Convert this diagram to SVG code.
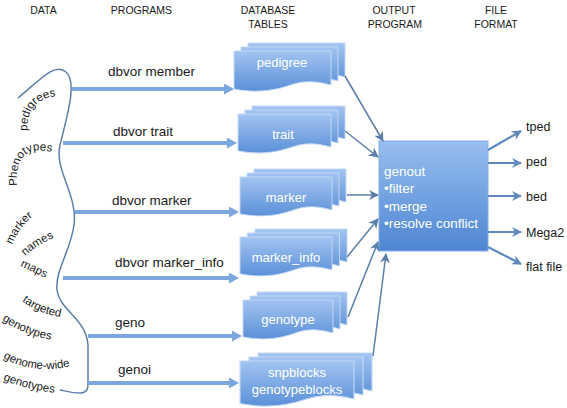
<svg xmlns="http://www.w3.org/2000/svg" width="567" height="408" viewBox="0 0 567 408">
<defs>
<style>
text{font-family:"Liberation Sans",Arial,sans-serif;fill:#1a1a1a}
.hdr{font-size:10.5px;text-anchor:middle}
.prog{font-size:13.5px}
.tbl{font-size:13px;fill:#ffffff;text-anchor:middle}
.gen{font-size:13.5px;fill:#ffffff}
.out{font-size:12.5px}
.cur{font-size:11.5px}
.sheet{fill:url(#sg);stroke:#c3d8f4;stroke-width:1;vector-effect:non-scaling-stroke}
.thick{stroke:#7ba6de;stroke-width:4;fill:none;marker-end:url(#mThick)}
.thin{stroke:#5a7ea8;stroke-width:1.5;fill:none;marker-end:url(#mThin)}
.outa{stroke:#5f89bd;stroke-width:2.2;fill:none;marker-end:url(#mOut)}
.brace{stroke:#5b7ea8;stroke-width:1.5;fill:none}
</style>
<linearGradient id="sg" x1="0" y1="0" x2="0" y2="1">
<stop offset="0" stop-color="#a2c4f1"/>
<stop offset="1" stop-color="#5b90d8"/>
</linearGradient>
<linearGradient id="bg" x1="0" y1="0" x2="0" y2="1">
<stop offset="0" stop-color="#97bef0"/>
<stop offset="1" stop-color="#4e86d2"/>
</linearGradient>
<path id="doc" d="M0,0 H100 V34 C80,29 70,30 55,35 C40,40 20,42 0,38 Z"/>
<marker id="mThick" markerUnits="userSpaceOnUse" markerWidth="10" markerHeight="11" refX="1" refY="5.5" orient="auto">
<path d="M0,0 L10,5.5 L0,11 Z" fill="#7ba6de"/>
</marker>
<marker id="mThin" markerUnits="userSpaceOnUse" markerWidth="10" markerHeight="10" refX="9" refY="5" orient="auto">
<path d="M0,0 L10,5 L0,10 L3,5 Z" fill="#5a7ea8"/>
</marker>
<marker id="mOut" markerUnits="userSpaceOnUse" markerWidth="10" markerHeight="10" refX="9" refY="5" orient="auto">
<path d="M0,0 L10,5 L0,10 L3,5 Z" fill="#5f89bd"/>
</marker>
<path id="tp1" d="M27,131 Q27,97 60,96"/>
<path id="tp2" d="M17,186 Q14,139 58,154"/>
<path id="tp3" d="M12,245 Q22,220 46,208"/>
<path id="tp4" d="M25,256 Q41,241 67,233"/>
<path id="tp5" d="M20,266 L54,282"/>
<path id="tp6" d="M22,301 Q40,315 68,318"/>
<path id="tp7" d="M2,320 Q25,336 58,341"/>
<path id="tp8" d="M3,358 Q40,378 84,362"/>
<path id="tp9" d="M3,380 Q30,391 66,394"/>
</defs>

<g id="headers">
<text class="hdr" x="43.5" y="14">DATA</text>
<text class="hdr" x="141.5" y="14">PROGRAMS</text>
<text class="hdr" x="268" y="14">DATABASE</text>
<text class="hdr" x="268" y="28">TABLES</text>
<text class="hdr" x="394" y="14">OUTPUT</text>
<text class="hdr" x="395" y="28">PROGRAM</text>
<text class="hdr" x="496" y="14">FILE</text>
<text class="hdr" x="496" y="28">FORMAT</text>
</g>

<g id="data">
<path class="brace" d="M18,98 C40,80 55,62 66,72 C78,82 66,120 60,145 C54,170 78,195 74,225 C71,250 55,270 57,290 C59,310 86,318 88,345 L88,385 C88,397 75,393 60,390"/>
<text class="cur"><textPath href="#tp1">pedigrees</textPath></text>
<text class="cur"><textPath href="#tp2">Phenotypes</textPath></text>
<text class="cur"><textPath href="#tp3">marker</textPath></text>
<text class="cur"><textPath href="#tp4">names</textPath></text>
<text class="cur"><textPath href="#tp5">maps</textPath></text>
<text class="cur"><textPath href="#tp6">targeted</textPath></text>
<text class="cur"><textPath href="#tp7">genotypes</textPath></text>
<text class="cur"><textPath href="#tp8">genome-wide</textPath></text>
<text class="cur"><textPath href="#tp9">genotypes</textPath></text>
</g>

<g id="programs">
<text class="prog" x="108" y="76">dbvor member</text>
<text class="prog" x="113" y="136">dbvor trait</text>
<text class="prog" x="112" y="205">dbvor marker</text>
<text class="prog" x="115" y="267">dbvor marker_info</text>
<text class="prog" x="115" y="327">geno</text>
<text class="prog" x="118" y="374">genoi</text>
</g>

<g id="pedigree">
<use href="#doc" class="sheet" transform="translate(248,43) scale(0.97,1)"/>
<use href="#doc" class="sheet" transform="translate(241,47) scale(0.97,1)"/>
<use href="#doc" class="sheet" transform="translate(234,51) scale(0.97,1)"/>
<text class="tbl" x="282" y="67">pedigree</text>
</g>
<g id="trait">
<use href="#doc" class="sheet" transform="translate(252,106) scale(0.93,0.97)"/>
<use href="#doc" class="sheet" transform="translate(245,110) scale(0.93,0.97)"/>
<use href="#doc" class="sheet" transform="translate(238,114) scale(0.93,0.97)"/>
<text class="tbl" x="283" y="139">trait</text>
</g>
<g id="marker">
<use href="#doc" class="sheet" transform="translate(254,169) scale(0.92,0.97)"/>
<use href="#doc" class="sheet" transform="translate(247,173) scale(0.92,0.97)"/>
<use href="#doc" class="sheet" transform="translate(240,177) scale(0.92,0.97)"/>
<text class="tbl" x="286" y="202">marker</text>
</g>
<g id="marker_info">
<use href="#doc" class="sheet" transform="translate(255,229) scale(0.92,0.97)"/>
<use href="#doc" class="sheet" transform="translate(247.5,233) scale(0.92,0.97)"/>
<use href="#doc" class="sheet" transform="translate(240,237) scale(0.92,0.97)"/>
<text class="tbl" x="286" y="262">marker_info</text>
</g>
<g id="genotype">
<use href="#doc" class="sheet" transform="translate(257,292) scale(0.9,0.97)"/>
<use href="#doc" class="sheet" transform="translate(250,296) scale(0.9,0.97)"/>
<use href="#doc" class="sheet" transform="translate(243,300) scale(0.9,0.97)"/>
<text class="tbl" x="288" y="324">genotype</text>
</g>
<g id="snpblocks">
<use href="#doc" class="sheet" transform="translate(258,353) scale(1.14,1.12)"/>
<use href="#doc" class="sheet" transform="translate(249,357) scale(1.14,1.12)"/>
<use href="#doc" class="sheet" transform="translate(240,361) scale(1.14,1.12)"/>
<text class="tbl" x="297" y="377">snpblocks</text>
<text class="tbl" x="297" y="394">genotypeblocks</text>
</g>

<g id="genout">
<rect x="379" y="141" width="109" height="110" fill="url(#bg)" stroke="#86aee2" stroke-width="1"/>
<text class="gen" x="384" y="176">genout</text>
<text class="gen" x="384" y="193">•filter</text>
<text class="gen" x="384" y="211">•merge</text>
<text class="gen" x="384" y="228">•resolve conflict</text>
</g>

<g id="formats">
<text class="out" x="526" y="131">tped</text>
<text class="out" x="526" y="166">ped</text>
<text class="out" x="526" y="201">bed</text>
<text class="out" x="526" y="237">Mega2</text>
<text class="out" x="526" y="271">flat file</text>
</g>

<g id="connectors">
<line class="thick" x1="72" y1="89" x2="225" y2="89"/>
<line class="thick" x1="63" y1="143" x2="228" y2="143"/>
<line class="thick" x1="75" y1="212" x2="230" y2="212"/>
<line class="thick" x1="63" y1="278" x2="230" y2="278"/>
<line class="thick" x1="88" y1="336" x2="233" y2="336"/>
<line class="thick" x1="88" y1="383" x2="230" y2="383"/>
<line class="thin" x1="345" y1="76" x2="383" y2="141"/>
<line class="thin" x1="345" y1="131" x2="378" y2="157"/>
<line class="thin" x1="347" y1="195" x2="378" y2="195"/>
<line class="thin" x1="347" y1="257" x2="378" y2="219"/>
<line class="thin" x1="348" y1="317" x2="378" y2="242"/>
<line class="thin" x1="373" y1="356" x2="386" y2="254"/>
<line class="outa" x1="488" y1="150" x2="521" y2="131"/>
<line class="outa" x1="488" y1="163" x2="521" y2="163"/>
<line class="outa" x1="488" y1="196" x2="521" y2="196"/>
<line class="outa" x1="488" y1="232" x2="521" y2="232"/>
<line class="outa" x1="488" y1="247" x2="521" y2="264"/>
</g>
</svg>
